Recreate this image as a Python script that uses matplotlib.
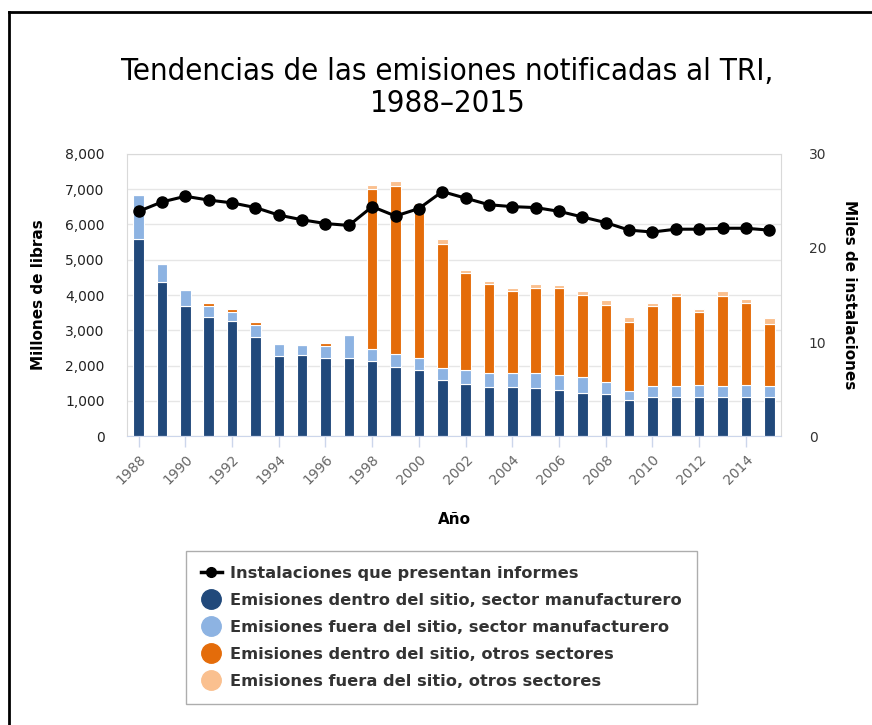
import matplotlib.pyplot as plt
from matplotlib.lines import Line2D
import numpy as np

years = list(range(1988, 2016))
# millones de libras, cada segmento de la barra
onsite_mfg = [5590, 4370, 3680, 3380, 3260, 2820, 2260, 2300, 2220, 2220,
              2130, 1960, 1870, 1580, 1480, 1400, 1400, 1350, 1310, 1230,
              1180, 1010, 1100, 1100, 1100, 1100, 1100, 1100]
offsite_mfg = [1240, 510, 460, 310, 265, 340, 340, 290, 330, 640,
               340, 360, 350, 350, 405, 395, 395, 445, 425, 440,
               350, 265, 305, 305, 345, 305, 345, 305]
onsite_other = [0, 0, 0, 70, 65, 80, 0, 0, 90, 0,
                4530, 4770, 4340, 3520, 2740, 2530, 2310, 2410, 2455, 2320,
                2200, 1970, 2295, 2580, 2070, 2580, 2320, 1760]
offsite_other = [0, 0, 0, 0, 0, 0, 0, 0, 0, 0,
                 120, 130, 50, 140, 95, 85, 85, 120, 95, 120,
                 120, 130, 75, 85, 75, 120, 130, 170]
# miles de instalaciones
facilities = [23.9, 24.9, 25.5, 25.1, 24.8, 24.3, 23.5, 23.0, 22.6, 22.4,
              24.4, 23.4, 24.2, 26.0, 25.3, 24.6, 24.4, 24.3, 23.9, 23.3,
              22.7, 21.9, 21.7, 22.0, 22.0, 22.1, 22.1, 21.9]

labels = ['Instalaciones que presentan informes',
          'Emisiones dentro del sitio, sector manufacturero',
          'Emisiones fuera del sitio, sector manufacturero',
          'Emisiones dentro del sitio, otros sectores',
          'Emisiones fuera del sitio, otros sectores']
colors = ['#21497b', '#8db3e2', '#e46c0a', '#fac08f']

fig = plt.figure(figsize=(8.72, 7.25), dpi=100)
ax = fig.add_axes([0.1456, 0.3986, 0.75, 0.389])

series = [onsite_mfg, offsite_mfg, onsite_other, offsite_other]
bottom = np.zeros(len(years))
for vals, c in zip(series, colors):
    ax.bar(years, vals, width=0.45, bottom=bottom, color=c,
           edgecolor='white', linewidth=0.8, zorder=2)
    bottom += np.array(vals)

ax.set_xlim(1987.5, 2015.5)
ax.set_ylim(0, 8000)
ax.set_yticks(range(0, 8001, 1000))
ax.set_yticklabels([f'{v:,}' for v in range(0, 8001, 1000)], fontsize=10, color='#222222')
ax.set_xticks(years[::2])
ax.set_xticklabels(years[::2], rotation=45, ha='right', rotation_mode='anchor',
                   fontsize=10, color='#666666')
ax.tick_params(axis='x', length=8, color='#ccd6eb', width=1)
ax.tick_params(axis='y', length=0, pad=16)
ax.grid(axis='y', color='#e6e6e6', lw=1, zorder=0)
ax.set_axisbelow(True)
for s in ['left', 'top', 'right']:
    ax.spines[s].set_color('#d9d9d9')
ax.spines['bottom'].set_color('#ccd6eb')
ax.set_ylabel('Millones de libras', fontsize=11, fontweight='bold', labelpad=14)
ax.set_xlabel('Año', fontsize=11, fontweight='bold', labelpad=18)

ax2 = ax.twinx()
ax2.plot(years, facilities, color='black', lw=2.2, marker='o', markersize=8, zorder=5)
ax2.set_ylim(0, 30)
ax2.set_yticks([0, 10, 20, 30])
ax2.tick_params(axis='y', length=0, labelsize=10, labelcolor='#333333', pad=20)
for s in ax2.spines.values():
    s.set_visible(False)
ax2.set_ylabel('Miles de instalaciones', fontsize=11, fontweight='bold',
               rotation=-90, labelpad=22)

fig.text(0.513, 0.879, 'Tendencias de las emisiones notificadas al TRI,\n1988\u20132015',
         ha='center', va='center', fontsize=22.3, fontstretch='condensed',
         family='DejaVu Sans', linespacing=1.15)

handles = [Line2D([], [], color='black', lw=2.5, marker='o', markersize=7)]
for c in colors:
    handles.append(Line2D([], [], ls='none', marker='o', markersize=14,
                          markerfacecolor=c, markeredgecolor=c))
leg = fig.legend(handles, labels, loc='upper center', bbox_to_anchor=(0.506, 0.24),
                 borderaxespad=0, frameon=True, fancybox=False, edgecolor='#999999',
                 prop={'size': 11.7, 'weight': 'bold'}, labelcolor='#333333',
                 handlelength=1.3, handletextpad=0.5, labelspacing=0.74,
                 borderpad=0.92)

# marco de la imagen
fig.add_artist(Line2D([0.0103, 0.0103], [0, 0.984], color='black', lw=2,
                      transform=fig.transFigure))
fig.add_artist(Line2D([0.0103, 1], [0.984, 0.984], color='black', lw=2,
                      transform=fig.transFigure))

plt.savefig('out.png', dpi=100)
